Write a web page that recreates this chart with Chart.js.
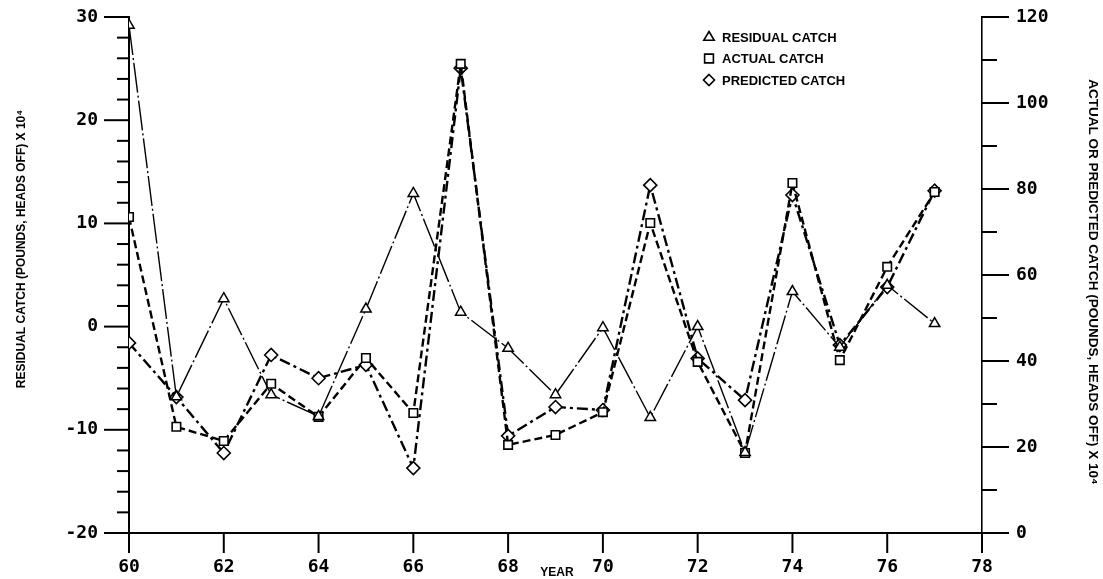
<!DOCTYPE html>
<html>
<head>
<meta charset="utf-8">
<script src="https://cdn.jsdelivr.net/npm/chart.js@4.4.0/dist/chart.umd.min.js"></script>
<style>
  html, body { margin: 0; padding: 0; background: #fff; }
  canvas { display: block; }
</style>
</head>
<body>
<canvas id="chart" width="1103" height="579"></canvas>
<script>
// Shrimp catch by year: residual on the left axis, actual / predicted on the right axis
const years = [60, 61, 62, 63, 64, 65, 66, 67, 68, 69, 70, 71, 72, 73, 74, 75, 76, 77];
const residualCatch  = [29.2, -6.8, 2.7, -6.6, -8.7, 1.7, 12.9, 1.4, -2.1, -6.6, -0.1, -8.8, 0.0, -12.2, 3.4, -2.0, 4.0, 0.3];
const actualCatch    = [73.5, 24.7, 21.4, 34.7, 27.0, 40.7, 27.9, 109.1, 20.5, 22.8, 28.1, 72.1, 39.8, 18.6, 81.4, 40.2, 61.9, 79.3];
const predictedCatch = [44.2, 31.6, 18.6, 41.4, 36.0, 39.1, 15.1, 108.1, 22.6, 29.3, 28.6, 80.9, 40.6, 30.9, 78.6, 43.7, 57.2, 79.6];

const xTicks = [60, 62, 64, 66, 68, 70, 72, 74, 76, 78];
const leftTicks = [-20, -10, 0, 10, 20, 30];
const rightTicks = [0, 20, 40, 60, 80, 100, 120];

const legendLabels = ['RESIDUAL CATCH', 'ACTUAL CATCH', 'PREDICTED CATCH'];
const leftTitle = 'RESIDUAL CATCH (POUNDS, HEADS OFF) X 10\u2074';
const rightTitle = 'ACTUAL OR PREDICTED CATCH (POUNDS, HEADS OFF) X 10\u2074';
const xTitle = 'YEAR';

const pts = arr => years.map((yr, i) => ({ x: yr, y: arr[i] }));
const tickFont = { family: 'DejaVu Sans Mono', size: 18, weight: 'bold' };
const boldFont = size => 'bold ' + size + 'px "Liberation Sans", Arial, sans-serif';

function seg(ctx, x1, y1, x2, y2) {
  ctx.beginPath(); ctx.moveTo(x1, y1); ctx.lineTo(x2, y2); ctx.stroke();
}

function marker(ctx, style, x, y, r) {
  ctx.beginPath();
  if (style === 'triangle') {
    ctx.moveTo(x, y - r); ctx.lineTo(x + r * 0.95, y + r * 0.6); ctx.lineTo(x - r * 0.95, y + r * 0.6);
  } else if (style === 'rect') {
    ctx.rect(x - r * 0.8, y - r * 0.8, r * 1.6, r * 1.6);
  } else {
    ctx.moveTo(x, y - r); ctx.lineTo(x + r, y); ctx.lineTo(x, y + r); ctx.lineTo(x - r, y);
  }
  ctx.closePath(); ctx.fillStyle = '#fff'; ctx.fill(); ctx.stroke();
}

// Keep the plot frame fixed: no extra room reserved for end labels
function zeroPad(s) {
  s.paddingTop = 0; s.paddingBottom = 0; s.paddingLeft = 0; s.paddingRight = 0;
}

// Tick marks, axis titles and the legend block
const decorations = {
  id: 'decorations',
  afterDraw(chart) {
    const ctx = chart.ctx;
    const { left, right, bottom } = chart.chartArea;
    const sx = chart.scales.x, sl = chart.scales.yL, sr = chart.scales.yR;
    ctx.save();
    ctx.strokeStyle = '#000';
    ctx.lineWidth = 2;
    xTicks.forEach(v => { const p = sx.getPixelForValue(v); seg(ctx, p, bottom, p, bottom + 20); });
    for (let v = sl.min; v <= sl.max; v += 2) {
      const p = sl.getPixelForValue(v);
      seg(ctx, left - (v % 10 === 0 ? 25 : 12), p, left, p);
    }
    for (let v = sr.min; v <= sr.max; v += 10) {
      const p = sr.getPixelForValue(v);
      seg(ctx, right, p, right + (v % 20 === 0 ? 27 : 15), p);
    }

    ctx.fillStyle = '#000';
    ctx.textAlign = 'center';
    ctx.textBaseline = 'middle';
    ctx.save();
    ctx.translate(22, 249); ctx.rotate(-Math.PI / 2);
    ctx.font = boldFont(12);
    ctx.fillText(leftTitle, 0, 0);
    ctx.restore();
    ctx.save();
    ctx.translate(1093, 282); ctx.rotate(Math.PI / 2);
    ctx.font = boldFont(13.5);
    ctx.fillText(rightTitle, 0, 0);
    ctx.restore();
    ctx.font = boldFont(12);
    ctx.fillText(xTitle, 557, 573);

    const styles = ['triangle', 'rect', 'rectRot'];
    ctx.lineWidth = 1.6;
    ctx.textAlign = 'left';
    ctx.font = boldFont(13);
    legendLabels.forEach((t, i) => {
      const y = 37 + i * 21.5;
      marker(ctx, styles[i], 709, y, 5.5);
      ctx.fillStyle = '#000';
      ctx.fillText(t, 722, y + 1);
    });
    ctx.restore();
  }
};

new Chart(document.getElementById('chart'), {
  type: 'line',
  data: {
    datasets: [
      {
        label: legendLabels[0], data: pts(residualCatch), yAxisID: 'yL',
        borderColor: '#000', borderWidth: 1.4, borderDash: [30, 3, 2, 3],
        pointStyle: 'triangle', pointRadius: 6, pointBorderWidth: 1.5,
        pointBackgroundColor: '#fff', pointBorderColor: '#000', tension: 0
      },
      {
        label: legendLabels[1], data: pts(actualCatch), yAxisID: 'yR',
        borderColor: '#000', borderWidth: 2.4, borderDash: [8, 4],
        pointStyle: 'rect', pointRadius: 6, pointBorderWidth: 1.6,
        pointBackgroundColor: '#fff', pointBorderColor: '#000', tension: 0
      },
      {
        label: legendLabels[2], data: pts(predictedCatch), yAxisID: 'yR',
        borderColor: '#000', borderWidth: 2.4, borderDash: [11, 4, 3, 4],
        pointStyle: 'rectRot', pointRadius: 6.5, pointBorderWidth: 1.6,
        pointBackgroundColor: '#fff', pointBorderColor: '#000', tension: 0
      }
    ]
  },
  options: {
    responsive: false,
    animation: false,
    devicePixelRatio: 1,
    layout: { padding: { top: 17, left: 0, right: 0, bottom: 0 } },
    plugins: { legend: { display: false }, tooltip: { enabled: false } },
    scales: {
      x: {
        type: 'linear', position: 'bottom', min: 60, max: 78,
        afterBuildTicks: s => { s.ticks = xTicks.map(v => ({ value: v })); },
        afterFit: s => { s.height = 46; zeroPad(s); },
        grid: { display: false, drawTicks: false },
        border: { display: true, color: '#000', width: 2, dash: [30, 5, 4, 5] },
        ticks: { color: '#000', font: tickFont, padding: 24, maxRotation: 0, autoSkip: false }
      },
      yL: {
        type: 'linear', position: 'left', min: -20, max: 30,
        afterBuildTicks: s => { s.ticks = leftTicks.map(v => ({ value: v })); },
        afterFit: s => { s.width = 129; zeroPad(s); },
        grid: { display: false, drawTicks: false },
        border: { display: true, color: '#000', width: 2 },
        ticks: { color: '#000', font: tickFont, padding: 31 }
      },
      yR: {
        type: 'linear', position: 'right', min: 0, max: 120,
        afterBuildTicks: s => { s.ticks = rightTicks.map(v => ({ value: v })); },
        afterFit: s => { s.width = 121; zeroPad(s); },
        grid: { display: false, drawTicks: false },
        border: { display: true, color: '#000', width: 1.6, dash: [26, 4, 3, 4] },
        ticks: { color: '#000', font: tickFont, padding: 34 }
      }
    }
  },
  plugins: [decorations]
});
</script>
</body>
</html>
